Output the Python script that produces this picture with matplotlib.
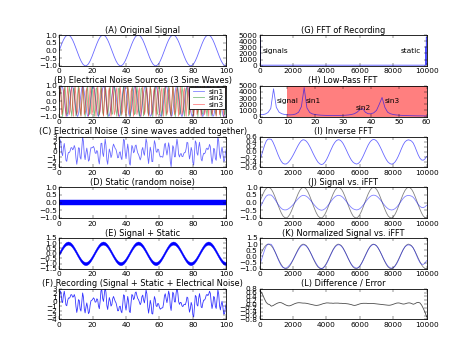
import numpy as np
import matplotlib
matplotlib.use('Agg')
import matplotlib.pyplot as plt

plt.style.use('classic')
plt.rcParams['font.family'] = 'DejaVu Sans'
plt.rcParams['font.size'] = 9
plt.rcParams['axes.titlesize'] = 10
plt.rcParams['axes.titlepad'] = 3.5
plt.rcParams['xtick.major.pad'] = 2.5
plt.rcParams['ytick.major.pad'] = 2.5
plt.rcParams['legend.fontsize'] = 9
plt.rcParams['figure.facecolor'] = 'white'
plt.rcParams['savefig.facecolor'] = 'white'

# left column: time axis 0..100 read every 0.5
xs = np.linspace(0, 100, 201)

signal = [
    0.0, 0.15, 0.29, 0.43, 0.56, 0.68, 0.78, 0.87, 0.93, 0.97, 1.0, 1.0, 0.97, 0.93, 0.87, 0.78, 0.68, 0.56, 0.43, 0.29, 0.15,
    0.0, -0.15, -0.29, -0.43, -0.56, -0.68, -0.78, -0.87, -0.93, -0.97, -1.0, -1.0, -0.97, -0.93, -0.87, -0.78, -0.68, -0.56, -0.43, -0.29, -0.15,
    0.0, 0.15, 0.29, 0.43, 0.56, 0.68, 0.78, 0.87, 0.93, 0.97, 1.0, 1.0, 0.97, 0.93, 0.87, 0.78, 0.68, 0.56, 0.43, 0.29, 0.15,
    0.0, -0.15, -0.29, -0.43, -0.56, -0.68, -0.78, -0.87, -0.93, -0.97, -1.0, -1.0, -0.97, -0.93, -0.87, -0.78, -0.68, -0.56, -0.43, -0.29, -0.15,
    0.0, 0.15, 0.29, 0.43, 0.56, 0.68, 0.78, 0.87, 0.93, 0.97, 1.0, 1.0, 0.97, 0.93, 0.87, 0.78, 0.68, 0.56, 0.43, 0.29, 0.15,
    0.0, -0.15, -0.29, -0.43, -0.56, -0.68, -0.78, -0.87, -0.93, -0.97, -1.0, -1.0, -0.97, -0.93, -0.87, -0.78, -0.68, -0.56, -0.43, -0.29, -0.15,
    0.0, 0.15, 0.29, 0.43, 0.56, 0.68, 0.78, 0.87, 0.93, 0.97, 1.0, 1.0, 0.97, 0.93, 0.87, 0.78, 0.68, 0.56, 0.43, 0.29, 0.15,
    0.0, -0.15, -0.29, -0.43, -0.56, -0.68, -0.78, -0.87, -0.93, -0.97, -1.0, -1.0, -0.97, -0.93, -0.87, -0.78, -0.68, -0.56, -0.43, -0.29, -0.15,
    0.0, 0.15, 0.29, 0.43, 0.56, 0.68, 0.78, 0.87, 0.93, 0.97, 1.0, 1.0, 0.97, 0.93, 0.87, 0.78, 0.68, 0.56, 0.43, 0.29, 0.15,
    0.0, -0.15, -0.29, -0.43, -0.56, -0.68, -0.78, -0.87, -0.93, -0.97, -1.0, -1.0,
]

sin1 = [
    0.0, 0.48, 0.84, 1.0, 0.9, 0.59, 0.13, -0.37, -0.77, -0.98, -0.95, -0.68, -0.25, 0.25, 0.68, 0.95, 0.98, 0.77, 0.37, -0.13, -0.59, -0.9, -1.0, -0.84, -0.48,
    0.0, 0.48, 0.84, 1.0, 0.9, 0.59, 0.13, -0.37, -0.77, -0.98, -0.95, -0.68, -0.25, 0.25, 0.68, 0.95, 0.98, 0.77, 0.37, -0.13, -0.59, -0.9, -1.0, -0.84, -0.48,
    0.0, 0.48, 0.84, 1.0, 0.9, 0.59, 0.13, -0.37, -0.77, -0.98, -0.95, -0.68, -0.25, 0.25, 0.68, 0.95, 0.98, 0.77, 0.37, -0.13, -0.59, -0.9, -1.0, -0.84, -0.48,
    0.0, 0.48, 0.84, 1.0, 0.9, 0.59, 0.13, -0.37, -0.77, -0.98, -0.95, -0.68, -0.25, 0.25, 0.68, 0.95, 0.98, 0.77, 0.37, -0.13, -0.59, -0.9, -1.0, -0.84, -0.48,
    0.0, 0.48, 0.84, 1.0, 0.9, 0.59, 0.13, -0.37, -0.77, -0.98, -0.95, -0.68, -0.25, 0.25, 0.68, 0.95, 0.98, 0.77, 0.37, -0.13, -0.59, -0.9, -1.0, -0.84, -0.48,
    0.0, 0.48, 0.84, 1.0, 0.9, 0.59, 0.13, -0.37, -0.77, -0.98, -0.95, -0.68, -0.25, 0.25, 0.68, 0.95, 0.98, 0.77, 0.37, -0.13, -0.59, -0.9, -1.0, -0.84, -0.48,
    0.0, 0.48, 0.84, 1.0, 0.9, 0.59, 0.13, -0.37, -0.77, -0.98, -0.95, -0.68, -0.25, 0.25, 0.68, 0.95, 0.98, 0.77, 0.37, -0.13, -0.59, -0.9, -1.0, -0.84, -0.48,
    0.0, 0.48, 0.84, 1.0, 0.9, 0.59, 0.13, -0.37, -0.77, -0.98, -0.95, -0.68, -0.25, 0.25, 0.68, 0.95, 0.98, 0.77, 0.37, -0.13, -0.59, -0.9, -1.0, -0.84, -0.48,
    0.0,
]

sin2 = [
    0.0, 0.92, 0.73, -0.34, -1.0, -0.45, 0.64, 0.96, 0.12, -0.87, -0.8, 0.23, 0.98, 0.55, -0.55, -0.98, -0.23, 0.8, 0.87, -0.12, -0.96, -0.64, 0.45, 1.0, 0.34, -0.73, -0.92,
    0.0, 0.92, 0.73, -0.34, -1.0, -0.45, 0.64, 0.96, 0.12, -0.87, -0.8, 0.23, 0.98, 0.55, -0.55, -0.98, -0.23, 0.8, 0.87, -0.12, -0.96, -0.64, 0.45, 1.0, 0.34, -0.73, -0.92,
    0.0, 0.92, 0.73, -0.34, -1.0, -0.45, 0.64, 0.96, 0.12, -0.87, -0.8, 0.23, 0.98, 0.55, -0.55, -0.98, -0.23, 0.8, 0.87, -0.12, -0.96, -0.64, 0.45, 1.0, 0.34, -0.73, -0.92,
    0.0, 0.92, 0.73, -0.34, -1.0, -0.45, 0.64, 0.96, 0.12, -0.87, -0.8, 0.23, 0.98, 0.55, -0.55, -0.98, -0.23, 0.8, 0.87, -0.12, -0.96, -0.64, 0.45, 1.0, 0.34, -0.73, -0.92,
    0.0, 0.92, 0.73, -0.34, -1.0, -0.45, 0.64, 0.96, 0.12, -0.87, -0.8, 0.23, 0.98, 0.55, -0.55, -0.98, -0.23, 0.8, 0.87, -0.12, -0.96, -0.64, 0.45, 1.0, 0.34, -0.73, -0.92,
    0.0, 0.92, 0.73, -0.34, -1.0, -0.45, 0.64, 0.96, 0.12, -0.87, -0.8, 0.23, 0.98, 0.55, -0.55, -0.98, -0.23, 0.8, 0.87, -0.12, -0.96, -0.64, 0.45, 1.0, 0.34, -0.73, -0.92,
    0.0, 0.92, 0.73, -0.34, -1.0, -0.45, 0.64, 0.96, 0.12, -0.87, -0.8, 0.23, 0.98, 0.55, -0.55, -0.98, -0.23, 0.8, 0.87, -0.12, -0.96, -0.64, 0.45, 1.0, 0.34, -0.73, -0.92,
    0.0, 0.92, 0.73, -0.34, -1.0, -0.45, 0.64, 0.96, 0.12, -0.87, -0.8, 0.23,
]

sin3 = [
    0.0, 0.98, 0.34, -0.87, -0.64, 0.64, 0.87, -0.34, -0.98, 0.0, 0.98, 0.34, -0.87, -0.64, 0.64, 0.87, -0.34, -0.98,
    0.0, 0.98, 0.34, -0.87, -0.64, 0.64, 0.87, -0.34, -0.98, 0.0, 0.98, 0.34, -0.87, -0.64, 0.64, 0.87, -0.34, -0.98,
    0.0, 0.98, 0.34, -0.87, -0.64, 0.64, 0.87, -0.34, -0.98, 0.0, 0.98, 0.34, -0.87, -0.64, 0.64, 0.87, -0.34, -0.98,
    0.0, 0.98, 0.34, -0.87, -0.64, 0.64, 0.87, -0.34, -0.98, 0.0, 0.98, 0.34, -0.87, -0.64, 0.64, 0.87, -0.34, -0.98,
    0.0, 0.98, 0.34, -0.87, -0.64, 0.64, 0.87, -0.34, -0.98, 0.0, 0.98, 0.34, -0.87, -0.64, 0.64, 0.87, -0.34, -0.98,
    0.0, 0.98, 0.34, -0.87, -0.64, 0.64, 0.87, -0.34, -0.98, 0.0, 0.98, 0.34, -0.87, -0.64, 0.64, 0.87, -0.34, -0.98,
    0.0, 0.98, 0.34, -0.87, -0.64, 0.64, 0.87, -0.34, -0.98, 0.0, 0.98, 0.34, -0.87, -0.64, 0.64, 0.87, -0.34, -0.98,
    0.0, 0.98, 0.34, -0.87, -0.64, 0.64, 0.87, -0.34, -0.98, 0.0, 0.98, 0.34, -0.87, -0.64, 0.64, 0.87, -0.34, -0.98,
    0.0, 0.98, 0.34, -0.87, -0.64, 0.64, 0.87, -0.34, -0.98, 0.0, 0.98, 0.34, -0.87, -0.64, 0.64, 0.87, -0.34, -0.98,
    0.0, 0.98, 0.34, -0.87, -0.64, 0.64, 0.87, -0.34, -0.98, 0.0, 0.98, 0.34, -0.87, -0.64, 0.64, 0.87, -0.34, -0.98,
    0.0, 0.98, 0.34, -0.87, -0.64, 0.64, 0.87, -0.34, -0.98, 0.0, 0.98, 0.34, -0.87, -0.64, 0.64, 0.87, -0.34, -0.98,
    0.0, 0.98, 0.34,
]

static_amp = 0.15   # half height of the random static band

# FFT magnitude for frequency bins 0..60
fft_bins = np.arange(61)
fft_mag = [
    350, 300, 400, 650, 1300, 4500, 1500, 700, 450, 330,
    280, 270, 300, 420, 700, 1600, 4700, 1400, 650, 420,
    320, 260, 220, 200, 180, 170, 160, 160, 170, 180,
    190, 220, 260, 330, 450, 700, 1100, 1300, 700, 450,
    450, 600, 1000, 2000, 3100, 1500, 700, 450, 330, 260,
    220, 190, 170, 150, 140, 130, 120, 110, 110, 100,
    100,
]
cutoff = 10

# right column: sample index 0..10000 read every 100
big_x = np.linspace(0, 10000, 101)
ifft = [
    -0.35, -0.165, 0.055, 0.265, 0.425, 0.5, 0.5, 0.49, 0.38, 0.23,
    0.065, -0.105, -0.255, -0.375, -0.45, -0.475, -0.47, -0.42, -0.345, -0.25,
    -0.135, -0.01, 0.12, 0.245, 0.355, 0.435, 0.475, 0.46, 0.415, 0.33,
    0.215, 0.085, -0.055, -0.185, -0.305, -0.405, -0.465, -0.495, -0.475, -0.41,
    -0.31, -0.175, -0.025, 0.12, 0.26, 0.365, 0.44, 0.475, 0.465, 0.415,
    0.325, 0.2, 0.065, -0.08, -0.21, -0.325, -0.405, -0.45, -0.475, -0.455,
    -0.395, -0.295, -0.165, -0.02, 0.125, 0.265, 0.375, 0.45, 0.485, 0.475,
    0.43, 0.34, 0.22, 0.085, -0.06, -0.195, -0.315, -0.405, -0.455, -0.48,
    -0.46, -0.4, -0.305, -0.175, -0.025, 0.135, 0.28, 0.385, 0.445, 0.47,
    0.455, 0.42, 0.345, 0.205, 0.04, -0.12, -0.245, -0.315, -0.325, -0.275,
    -0.175,
]

signal = np.array(signal)
sin1 = np.array(sin1)
sin2 = np.array(sin2)
sin3 = np.array(sin3)
noise = sin1 + sin2 + sin3
recording = signal + noise
fft_mag = np.array(fft_mag)
ifft = np.array(ifft)

# full spectrum is mirrored at the top end
g_x = np.concatenate([fft_bins, 10000 - fft_bins[:0:-1]])
g_y = np.concatenate([fft_mag, fft_mag[:0:-1]])

sig_big = signal[::2]
ifft_norm = ifft / np.abs(ifft).max()
error = sig_big - ifft_norm

fig, axes = plt.subplots(6, 2, figsize=(8, 6))
plt.subplots_adjust(hspace=0.65)

ax = axes[0, 0]
ax.plot(xs, signal, 'b', alpha=.6)
ax.set_title('(A) Original Signal')
ax.set_ylim(-1, 1)
ax.set_yticks([-1, -.5, 0, .5, 1])

ax = axes[1, 0]
ax.plot(xs, sin1, 'b', alpha=.5, label='sin1')
ax.plot(xs, sin2, 'g', alpha=.5, label='sin2')
ax.plot(xs, sin3, 'r', alpha=.5, label='sin3')
ax.legend(loc=1, borderpad=0.2, labelspacing=0.05, handlelength=2.0, handletextpad=0.4, borderaxespad=0.1)
ax.set_title('(B) Electrical Noise Sources (3 Sine Waves)')
ax.set_ylim(-1, 1)
ax.set_yticks([-1, -.5, 0, .5, 1])

ax = axes[2, 0]
ax.plot(xs, noise, 'b', alpha=.6)
ax.set_title('(C) Electrical Noise (3 sine waves added together)')
ax.set_ylim(-3, 3)
ax.set_yticks(np.arange(-3, 4))

ax = axes[3, 0]
ax.fill_between(xs, -static_amp, static_amp, color='b', lw=0.5)
ax.set_title('(D) Static (random noise)')
ax.set_ylim(-1, 1)
ax.set_yticks([-1, -.5, 0, .5, 1])

ax = axes[4, 0]
ax.fill_between(xs, signal - static_amp, signal + static_amp, color='b', lw=0.5)
ax.set_title('(E) Signal + Static')
ax.set_ylim(-1.5, 1.5)
ax.set_yticks(np.arange(-1.5, 1.6, .5))

ax = axes[5, 0]
ax.plot(xs, recording, 'b', alpha=.8)
ax.set_title('(F) Recording (Signal + Static + Electrical Noise)')
ax.set_ylim(-4, 3)
ax.set_yticks(np.arange(-4, 4))

for ax in axes[:, 0]:
    ax.set_xlim(0, 100)
    ax.set_xticks(np.arange(0, 101, 20))

ax = axes[0, 1]
ax.plot(g_x, g_y, 'b', alpha=.7)
ax.text(200, 2500, 'signals', va='center')
ax.text(8450, 2500, 'static', va='center')
ax.set_title('(G) FFT of Recording')
ax.set_xlim(0, 10000)
ax.set_ylim(0, 5000)
ax.set_yticks(np.arange(0, 5001, 1000))
ax.set_xticks(np.arange(0, 10001, 2000))

ax = axes[1, 1]
ax.plot(fft_bins, fft_mag, 'b', alpha=.6)
ax.axvspan(cutoff, 60, color='r', alpha=.5, lw=0)
ax.text(6, 2600, 'signal', va='center')
ax.text(16.7, 2600, 'sin1', va='center')
ax.text(34.5, 1450, 'sin2', va='center')
ax.text(45, 2600, 'sin3', va='center')
ax.set_title('(H) Low-Pass FFT')
ax.set_xlim(0, 60)
ax.set_ylim(0, 5000)
ax.set_yticks(np.arange(0, 5001, 1000))
ax.set_xticks(np.arange(0, 61, 10))

ax = axes[2, 1]
ax.plot(big_x, ifft, 'b', alpha=.6)
ax.set_title('(I) Inverse FFT')
ax.set_ylim(-.6, .6)
ax.set_yticks(np.arange(-.6, .61, .2))

ax = axes[3, 1]
ax.plot(big_x, sig_big, 'k', alpha=.5)
ax.plot(big_x, ifft, 'b', alpha=.5)
ax.set_title('(J) Signal vs. iFFT')
ax.set_ylim(-1, 1)
ax.set_yticks([-1, -.5, 0, .5, 1])

ax = axes[4, 1]
ax.plot(big_x, sig_big, 'k', alpha=.5)
ax.plot(big_x, ifft_norm, 'b', alpha=.5)
ax.set_title('(K) Normalized Signal vs. iFFT')
ax.set_ylim(-1, 1.5)
ax.set_yticks(np.arange(-1, 1.6, .5))

ax = axes[5, 1]
ax.plot(big_x, error, 'k', alpha=.7)
ax.set_title('(L) Difference / Error')
ax.set_ylim(-.8, .8)
ax.set_yticks(np.arange(-.8, .81, .2))

for ax in axes[2:, 1]:
    ax.set_xlim(0, 10000)
    ax.set_xticks(np.arange(0, 10001, 2000))

plt.savefig('out.png', dpi=59.25)
